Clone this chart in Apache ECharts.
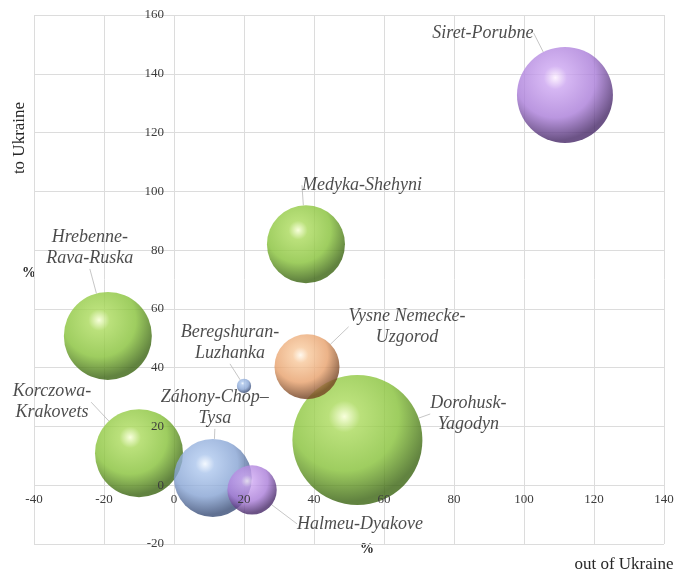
<!DOCTYPE html>
<html>
<head>
<meta charset="utf-8">
<script src="https://cdn.jsdelivr.net/npm/echarts@6/dist/echarts.min.js"></script>
<style>
  html, body { margin: 0; padding: 0; background: #fff; }
  #chart { width: 676px; height: 573px; }
</style>
</head>
<body>
<div id="chart"></div>
<script>
// border crossings: share of traffic out of Ukraine (x, %) and to Ukraine (y, %)
var crossings = ['Medyka-Shehyni', 'Hrebenne-\nRava-Ruska', 'Korczowa-\nKrakovets', 'Dorohusk-\nYagodyn',
    'Záhony-Chop–\nTysa', 'Beregshuran-\nLuzhanka', 'Siret-Porubne', 'Halmeu-Dyakove', 'Vysne Nemecke-\nUzgorod'];
var outOfUkraine = [37.7, -18.9, -10, 52.4, 11.1, 20, 111.7, 22.3, 38];
var toUkraine = [82, 50.8, 10.9, 15.4, 2.5, 33.8, 132.8, -1.6, 40.3];
var volume = [36, 45.8, 45.8, 100, 36, 1.2, 54.5, 14.4, 25];
var country = ['PL', 'PL', 'PL', 'PL', 'HU', 'HU', 'RO', 'RO', 'SK'];
var xTicks = { min: -40, max: 140, step: 20 };
var yTicks = { min: -20, max: 160, step: 20 };

// label offsets from the bubble centre (px)
var labelOffset = [[56, -59], [-18, -88], [-87, -51], [111, -26], [2, -70], [-14, -43], [-82, -62], [108, 34], [100, -40]];

// sphere colours: highlight, light, base, dark edge
var palette = {
    PL: ['#f6ffd2', '#a9d95a', '#86c138', '#3a6410'],
    HU: ['#f0f7ff', '#abc5ec', '#86a3d3', '#394d77'],
    RO: ['#fdf0ff', '#cba4f0', '#a97cd8', '#472868'],
    SK: ['#fff7ea', '#f7c79a', '#e7a06b', '#754322']
};

window.onload = function () {
    var myChart = echarts.init(document.getElementById('chart'));
    var serif = '"Liberation Serif", "DejaVu Serif", serif';

    function sphere(c) {
        return new echarts.graphic.RadialGradient(0.4, 0.32, 0.76, [
            { offset: 0, color: c[0] },
            { offset: 0.16, color: c[1] },
            { offset: 0.55, color: c[2] },
            { offset: 0.86, color: c[3] },
            { offset: 1, color: c[3] }
        ]);
    }

    // 按国家分组
    var series = ['PL', 'HU', 'RO', 'SK'].map(function (code) {
        var items = [];
        var offs = [];
        for (var i = 0; i < crossings.length; i++) {
            if (country[i] !== code) continue;
            items.push({ value: [outOfUkraine[i], toUkraine[i], volume[i]], name: crossings[i] });
            offs.push(labelOffset[i]);
        }
        return {
            type: 'scatter',
            name: code,
            xAxisIndex: 0,
            yAxisIndex: 0,
            data: items,
            symbolSize: function (v) { return 130 * Math.sqrt(v[2] / 100); },
            itemStyle: { color: sphere(palette[code]) },
            label: {
                show: true,
                position: 'inside',
                formatter: '{b}',
                fontFamily: serif,
                fontStyle: 'italic',
                fontSize: 18,
                lineHeight: 21,
                color: '#1e1e1e',
                align: 'center'
            },
            labelLine: {
                show: true,
                length2: 0,
                lineStyle: { color: '#b8b8b8', width: 0.8 }
            },
            labelLayout: function (p) {
                var o = offs[p.dataIndex];
                return { dx: o[0], dy: o[1] };
            },
            emphasis: { disabled: true }
        };
    });

    var gridColor = '#dcdcdc';
    var tickFont = { fontFamily: serif, fontSize: 13, color: '#3c3c3c' };

    var option = {
        animation: false,
        grid: { left: 34, right: 12, top: 15, bottom: 29, outerBoundsMode: 'none' },
        xAxis: [
            {   // tick labels (above bubbles), moved onto y = 0 below
                type: 'value', min: xTicks.min, max: xTicks.max, interval: xTicks.step,
                position: 'bottom',
                axisLine: { show: false, onZero: false },
                axisTick: { show: false },
                splitLine: { show: false },
                axisLabel: Object.assign({ margin: 8 }, tickFont),
                z: 10
            },
            {   // grid lines (under bubbles)
                type: 'value', min: xTicks.min, max: xTicks.max, interval: xTicks.step,
                position: 'top',
                axisLine: { show: false, onZero: false },
                axisTick: { show: false },
                axisLabel: { show: false },
                splitLine: { lineStyle: { color: gridColor, width: 1 } },
                z: 0
            }
        ],
        yAxis: [
            {
                type: 'value', min: yTicks.min, max: yTicks.max, interval: yTicks.step,
                position: 'left',
                axisLine: { show: false, onZero: false },
                axisTick: { show: false },
                splitLine: { show: false },
                axisLabel: Object.assign({ margin: 10 }, tickFont),
                z: 10
            },
            {
                type: 'value', min: yTicks.min, max: yTicks.max, interval: yTicks.step,
                position: 'right',
                axisLine: { show: false, onZero: false },
                axisTick: { show: false },
                axisLabel: { show: false },
                splitLine: { lineStyle: { color: gridColor, width: 1 } },
                z: 0
            }
        ],
        graphic: [
            {
                type: 'text', x: 20, y: 138, rotation: Math.PI / 2,
                style: { text: 'to Ukraine', fontFamily: serif, fontSize: 17, fill: '#262626', align: 'center', verticalAlign: 'middle' }
            },
            {
                type: 'text', x: 29, y: 273,
                style: { text: '%', fontFamily: serif, fontWeight: 'bold', fontSize: 14, fill: '#262626', align: 'center', verticalAlign: 'middle' }
            },
            {
                type: 'text', x: 367, y: 549,
                style: { text: '%', fontFamily: serif, fontWeight: 'bold', fontSize: 14, fill: '#262626', align: 'center', verticalAlign: 'middle' }
            },
            {
                type: 'text', x: 624, y: 565,
                style: { text: 'out of Ukraine', fontFamily: serif, fontSize: 17, fill: '#262626', align: 'center', verticalAlign: 'middle' }
            }
        ],
        series: series
    };

    myChart.setOption(option);

    // 把刻度标签移到 0 线上 (axes cross at the origin)
    var corner = myChart.convertToPixel({ gridIndex: 0 }, [xTicks.min, yTicks.min]);
    var origin = myChart.convertToPixel({ gridIndex: 0 }, [0, 0]);
    myChart.setOption({
        xAxis: [{ offset: -(corner[1] - origin[1]) }, {}],
        yAxis: [{ offset: -(origin[0] - corner[0]) }, {}]
    });

    window.addEventListener('resize', function () {
        myChart.resize();
    });
};
</script>
</body>
</html>
